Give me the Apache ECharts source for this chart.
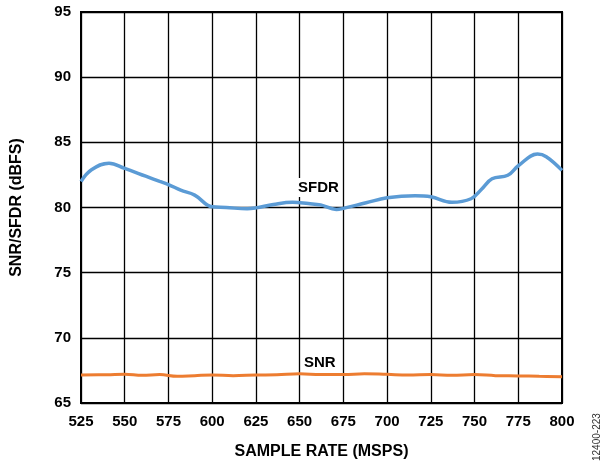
<!DOCTYPE html>
<html><head><meta charset="utf-8">
<script src="https://cdn.jsdelivr.net/npm/echarts@6/dist/echarts.min.js"></script>
<style>html,body{margin:0;padding:0;background:#fff}#c{width:601px;height:465px}</style>
</head><body><div id="c"></div>
<script>
const sfdrX = [525,531,541,550,562,570,575,582,590,600,608,620,625,635,646,655,662,671,675,688,700,716,725,737,748,754,760,769,775,786,791,800];
const sfdrY = [82.0,82.9,83.4,83.0,82.4,82.0,81.76,81.33,80.95,80.05,80.0,79.9,79.97,80.23,80.4,80.3,80.2,79.85,79.93,80.36,80.74,80.9,80.82,80.4,80.67,81.4,82.2,82.47,83.2,84.1,83.9,82.85];
const snrX = [525,540,550,560,570,580,590,600,612,625,637,650,662,675,687,700,712,725,737,750,762,775,787,800];
const snrY = [67.15,67.17,67.2,67.12,67.18,67.05,67.1,67.15,67.1,67.15,67.17,67.25,67.18,67.18,67.25,67.2,67.15,67.18,67.12,67.18,67.1,67.08,67.05,67.02];
const xTicks = [525,550,575,600,625,650,675,700,725,750,775,800];
const yTicks = [65,70,75,80,85,90,95];

const chart = echarts.init(document.getElementById('c'));
const font = 'Liberation Sans, Arial, sans-serif';
chart.setOption({
  animation:false,
  grid:{left:81,top:12,right:39,bottom:61,show:true,borderColor:'#000',borderWidth:2},
  xAxis:{type:'value',min:525,max:800,interval:25,
    axisLine:{show:false},axisTick:{show:false},
    splitLine:{show:true,lineStyle:{color:'#000',width:1.3}},
    axisLabel:{color:'#000',fontFamily:font,fontWeight:'bold',fontSize:15,margin:11},
    name:'SAMPLE RATE (MSPS)',nameLocation:'middle',nameGap:41,
    nameTextStyle:{color:'#000',fontFamily:font,fontWeight:'bold',fontSize:16}},
  yAxis:{type:'value',min:65,max:95,interval:5,
    axisLine:{show:false},axisTick:{show:false},
    splitLine:{show:true,lineStyle:{color:'#000',width:1.3}},
    axisLabel:{color:'#000',fontFamily:font,fontWeight:'bold',fontSize:15,margin:10},
    name:'SNR/SFDR (dBFS)',nameLocation:'middle',nameGap:56,
    nameTextStyle:{color:'#000',fontFamily:font,fontWeight:'bold',fontSize:16}},
  series:[
    {type:'line',smooth:0.4,symbol:'none',data:sfdrX.map((x,i)=>[x,sfdrY[i]]),
     lineStyle:{color:'#5b9bd5',width:3.5},z:3},
    {type:'line',smooth:0.4,symbol:'none',data:snrX.map((x,i)=>[x,snrY[i]]),
     lineStyle:{color:'#ed7d31',width:3},z:3}
  ],
  graphic:[
    {type:'text',left:296,top:178,z:10,style:{text:'SFDR',fill:'#000',font:'bold 15px '+font,backgroundColor:'#fff',padding:[2,2]}},
    {type:'text',left:302,top:354,z:10,style:{text:'SNR',fill:'#000',font:'bold 15px '+font,backgroundColor:'#fff',padding:[1,2]}},
    {type:'text',x:597,y:461,rotation:Math.PI/2,z:10,style:{text:'12400-223',fill:'#333',font:'10px '+font,textAlign:'left',textVerticalAlign:'middle'}}
  ]
});
</script></body></html>
